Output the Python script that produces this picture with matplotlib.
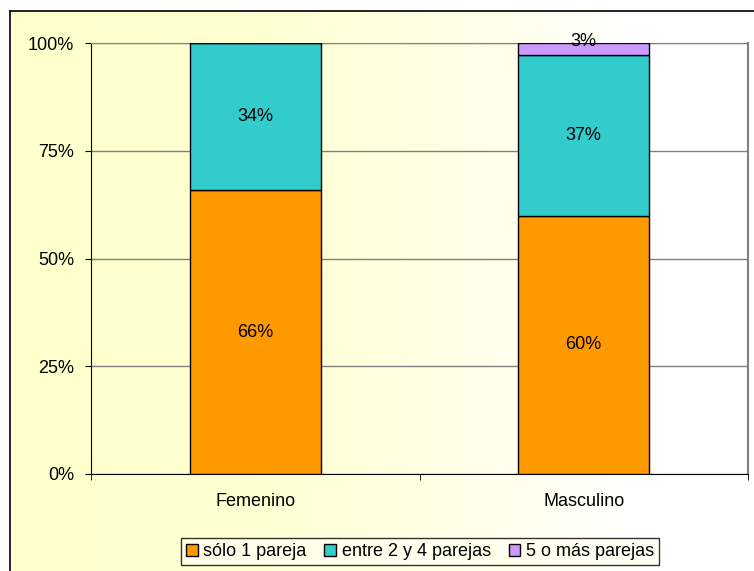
import numpy as np
import matplotlib
matplotlib.use("Agg")
import matplotlib.pyplot as plt

plt.rcParams['font.family'] = ['Liberation Sans', 'DejaVu Sans']

#data
categories = ["Femenino", "Masculino"]
series_names = ["sólo 1 pareja", "entre 2 y 4 parejas", "5 o más parejas"]
solo1 = [65.8, 59.9]
entre2y4 = [34.2, 37.4]
cinco_mas = [0.0, 2.7]
colors = ["#FF9900", "#33CCCC", "#CC99FF"]
yticks = [0, 25, 50, 75, 100]

W, H = 754, 571
fig = plt.figure(figsize=(W/100, H/100), dpi=100)

#background gradient (yellow -> white) with outer border
bg = fig.add_axes([10/W, 0, 1 - 10/W, 1 - 11/H], zorder=-5)
t = np.linspace(0, 1, 256)
img = np.ones((2, 256, 3))
img[..., 2] = 0.80 + 0.20*np.clip(t*1.2, 0, 1)**2
bg.imshow(img, aspect="auto", extent=[0, 1, 0, 1])
bg.set_xticks([])
bg.set_yticks([])
for s in ["right", "bottom"]:
    bg.spines[s].set_visible(False)
for s in ["left", "top"]:
    bg.spines[s].set_linewidth(1.2)

#main plot
ax = fig.add_axes([91/W, 1 - 474/H, (748-91)/W, (474-43)/H])
ax.patch.set_alpha(0)
x = np.arange(len(categories))
bottom = np.zeros(len(categories))
for vals, name, c in zip([solo1, entre2y4, cinco_mas], series_names, colors):
    vals = np.array(vals)
    ax.bar(x, vals, 0.4, bottom=bottom, color=c, edgecolor="black", linewidth=1, label=name, zorder=3)
    for xi, b, v in zip(x, bottom, vals):
        if v > 0:
            ax.text(xi, b + v/2 if v > 5 else 100.3, "%d%%" % round(v), ha="center", va="center", fontsize=13, zorder=4)
    bottom += vals

ax.set_xlim(-0.5, 1.5)
ax.set_ylim(0, 100)
ax.set_yticks(yticks)
ax.set_yticklabels(["%d%%" % t for t in yticks], fontsize=13)
ax.yaxis.grid(True, color="#808080", linewidth=1, zorder=0)
ax.set_xticks(x)
ax.set_xticklabels(categories, fontsize=13)
ax.set_xticks([-0.5, 0.5, 1.5], minor=True)
ax.tick_params(axis="x", which="major", length=0, pad=14)
ax.tick_params(axis="x", which="minor", length=4, direction="out")
ax.tick_params(axis="y", length=4, direction="out", pad=8)
ax.spines["left"].set_color("black")
ax.spines["bottom"].set_color("black")
ax.spines["top"].set_color("#808080")
ax.spines["right"].set_color("#808080")
ax.spines["right"].set_linewidth(1.5)

leg = fig.legend(loc="center", bbox_to_anchor=(420/W, 1 - 551.5/H), ncol=3, fontsize=13,
                 frameon=True, fancybox=False, edgecolor="black", handlelength=0.65, handleheight=0.65,
                 handletextpad=0.3, columnspacing=1.0, borderpad=0.3, borderaxespad=0)
leg.get_frame().set_linewidth(1)
leg.get_frame().set_facecolor("#FFFFF0")

fig.savefig("out.png", dpi=100)
